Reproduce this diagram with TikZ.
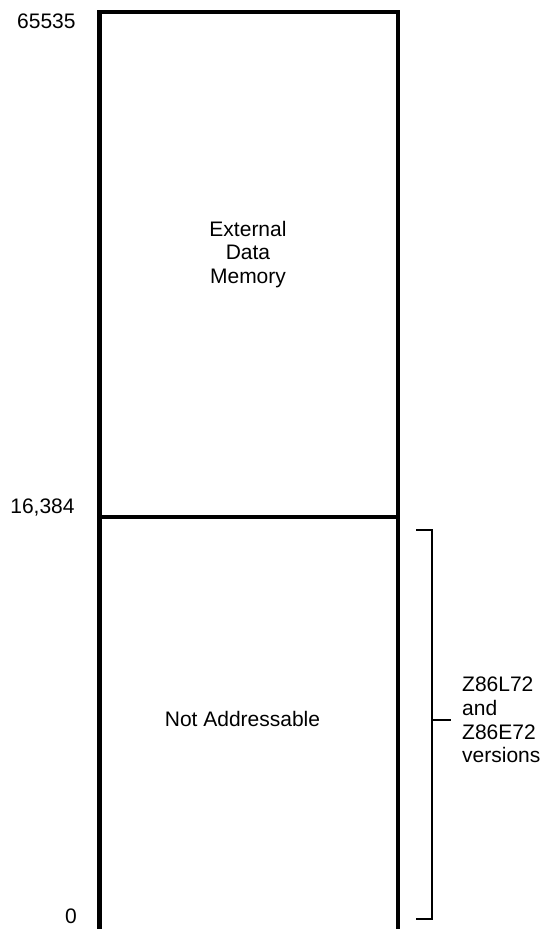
\documentclass[tikz,border=0pt]{standalone}
\usepackage{fontspec}
\setmainfont{Liberation Sans}
\begin{document}
\begin{tikzpicture}[x=1pt,y=-1pt,
  lbl/.style={inner sep=0pt,font=\fontsize{21}{23.6}\selectfont},
  wall/.style={line width=4.3pt},
  rule/.style={line width=3.6pt},
  brk/.style={line width=2pt}]
\useasboundingbox (0,0) rectangle (543,929);
% box corners
\coordinate (tl) at (99.5,10.3);
\coordinate (bl) at (99.5,935);
\coordinate (tr) at (398,10.3);
\coordinate (br) at (398,935);
\coordinate (topL) at (97.35,12);
\coordinate (topR) at (400.15,12);
\coordinate (midL) at (97.35,517);
\coordinate (midR) at (400.15,517);
\draw[wall] (tl) -- (bl);
\draw[wall] (tr) -- (br);
\draw[line width=3.2pt] (topL) -- (topR);
\draw[rule] (midL) -- (midR);
% address labels
\node[lbl,anchor=base east] (a65535) at (75.8,28.5) {65535};
\node[lbl,anchor=base east] (a16384) at (74.8,513.5) {16,384};
\node[lbl,anchor=base east] (a0) at (77,923.8) {0};
% region labels
\node[lbl,align=center,anchor=base] (ext) at (248,283.3) {External\\Data\\Memory};
\node[lbl,anchor=base] (na) at (242.5,726) {Not Addressable};
% bracket
\coordinate (b1) at (416,530);
\coordinate (b2) at (432,530);
\coordinate (b3) at (432,918.7);
\coordinate (b4) at (416,918.7);
\coordinate (bm) at (432,720);
\coordinate (bt) at (451,720);
\draw[brk,line join=miter] (b1) -- (b2) -- (b3) -- (b4);
\draw[brk] (bm) -- (bt);
\node[lbl,align=left,anchor=west] (ver) at (462,720) {Z86L72\\and\\Z86E72\\versions};
\end{tikzpicture}
\end{document}
